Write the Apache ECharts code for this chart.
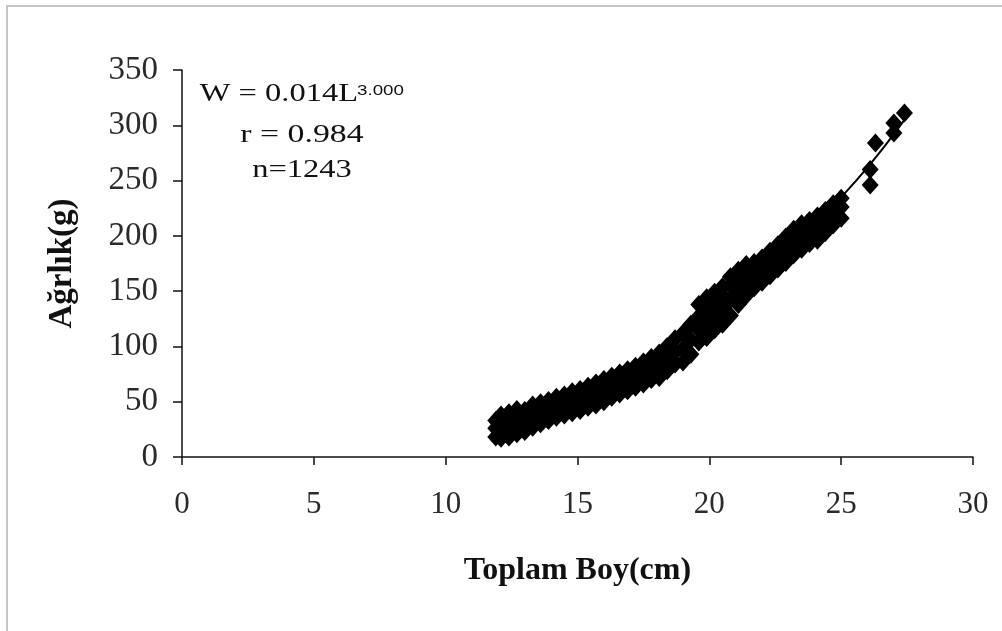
<!DOCTYPE html>
<html>
<head>
<meta charset="utf-8">
<script src="https://cdn.jsdelivr.net/npm/echarts@6/dist/echarts.min.js"></script>
<style>
  html, body { margin: 0; padding: 0; background: #ffffff; }
  #chart { width: 1002px; height: 631px; }
</style>
</head>
<body>
<div id="chart"></div>
<script>
// Total length (cm) groups and the weights (g) measured at each length
const boyCm = [11.9, 12.1, 12.4, 12.7, 13.0, 13.3, 13.6, 13.9, 14.2, 14.5, 14.8, 15.1,
  15.4, 15.7, 16.0, 16.3, 16.6, 16.9, 17.2, 17.5, 17.8, 18.1, 18.4, 18.7, 19.0, 19.3,
  19.6, 19.9, 20.2, 20.5, 20.8, 21.1, 21.4, 21.7, 22.0, 22.3, 22.6, 22.9, 23.2, 23.5,
  23.8, 24.1, 24.4, 24.7, 25.0, 26.1, 26.3, 27.0, 27.4];

const agirlikG = [
  [18, 26, 33], [17, 25, 32, 38], [18, 27, 34, 40], [21, 30, 38, 43], [23, 33, 42],
  [27, 37, 47], [30, 40, 49], [33, 43, 51], [36, 45, 54], [38, 47, 56], [40, 50, 59],
  [42, 52, 61], [45, 55, 64], [47, 57, 67], [50, 60, 70], [54, 64, 73], [57, 67, 76],
  [60, 70, 79], [63, 73, 82], [66, 77, 86], [70, 80, 90], [72, 83, 94], [78, 89, 100],
  [84, 95, 107], [86, 98, 112], [93, 106, 120], [104, 115, 127, 138], [108, 122, 134, 144],
  [115, 128, 140, 149], [120, 134, 146, 154], [128, 142, 155, 163], [138, 150, 160, 169],
  [146, 158, 168, 174], [153, 165, 176], [158, 170, 180], [164, 175, 186], [170, 181, 192],
  [176, 188, 199], [183, 194, 206], [188, 200, 211], [193, 204, 214], [196, 208, 218],
  [203, 214, 223], [210, 220, 229], [216, 226, 234], [246, 260], [284], [293, 302], [311]
];

// Power trend line W = 0.014 L^3
const trendBoy = [11.9, 13, 14, 15, 16, 17, 18, 19, 20, 21, 22, 23, 24, 25, 26, 27, 27.4];
const trendAgirlik = [26, 33, 42, 50, 59, 70, 83, 99, 118, 140, 164, 187, 210, 235, 262, 292, 305];

const xTickMax = 30, xTickStep = 5;
const yTickMax = 350, yTickStep = 50;

const points = [];
boyCm.forEach((L, i) => agirlikG[i].forEach(w => points.push([L, w])));
const trend = trendBoy.map((L, i) => [L, trendAgirlik[i]]);

const serif = '"Liberation Serif", "Times New Roman", serif';
const chart = echarts.init(document.getElementById('chart'), null, { renderer: 'canvas' });

chart.setOption({
  backgroundColor: '#ffffff',
  animation: false,
  grid: { left: 182, right: 29, top: 70, bottom: 174, containLabel: false },
  xAxis: {
    type: 'value', min: 0, max: xTickMax, interval: xTickStep,
    name: 'Toplam Boy(cm)', nameLocation: 'middle', nameGap: 98,
    nameTextStyle: { fontFamily: serif, fontWeight: 'bold', fontSize: 32, color: '#111' },
    axisLine: { show: true, onZero: false, lineStyle: { color: '#111', width: 1.5 } },
    axisTick: { show: true, inside: false, length: 8, lineStyle: { color: '#111', width: 1.5 } },
    axisLabel: { margin: 32, fontFamily: serif, fontSize: 31, color: '#2a2a2a' },
    splitLine: { show: false }
  },
  yAxis: {
    type: 'value', min: 0, max: yTickMax, interval: yTickStep,
    name: 'Ağrlık(g)', nameLocation: 'middle', nameGap: 103, nameRotate: 90,
    nameTextStyle: { fontFamily: serif, fontWeight: 'bold', fontSize: 33, color: '#111' },
    axisLine: { show: true, onZero: false, lineStyle: { color: '#111', width: 1.5 } },
    axisTick: { show: true, inside: false, length: 9, lineStyle: { color: '#111', width: 1.5 } },
    axisLabel: { margin: 24, fontFamily: serif, fontSize: 33, color: '#2a2a2a' },
    splitLine: { show: false }
  },
  series: [
    {
      type: 'scatter',
      data: points,
      symbol: 'diamond',
      symbolSize: [17, 19],
      itemStyle: { color: '#000000', opacity: 1 },
      z: 2
    },
    {
      type: 'line',
      data: trend,
      smooth: true,
      showSymbol: false,
      lineStyle: { color: '#000000', width: 2 },
      z: 3
    }
  ],
  graphic: [
    {
      type: 'rect', silent: true, z: 0,
      shape: { x: 7, y: 6, width: 1100, height: 700 },
      style: { fill: 'none', stroke: '#c6c6c6', lineWidth: 2 }
    },
    {
      type: 'text', silent: true, x: 358, y: 94, scaleX: 1.25, z: 5,
      style: { text: 'W = 0.014L', fontFamily: serif, fontSize: 26, fill: '#111',
        align: 'right', verticalAlign: 'middle', textAlign: 'right', textVerticalAlign: 'middle' }
    },
    {
      type: 'text', silent: true, x: 357, y: 91, scaleX: 1.25, z: 5,
      style: { text: '3.000', fontFamily: '"Liberation Sans", Arial, sans-serif', fontSize: 15, fill: '#111',
        align: 'left', verticalAlign: 'middle', textAlign: 'left', textVerticalAlign: 'middle' }
    },
    {
      type: 'text', silent: true, x: 302, y: 135, scaleX: 1.3, z: 5,
      style: { text: 'r = 0.984', fontFamily: serif, fontSize: 26, fill: '#111',
        align: 'center', verticalAlign: 'middle', textAlign: 'center', textVerticalAlign: 'middle' }
    },
    {
      type: 'text', silent: true, x: 302, y: 170, scaleX: 1.25, z: 5,
      style: { text: 'n=1243', fontFamily: serif, fontSize: 26, fill: '#111',
        align: 'center', verticalAlign: 'middle', textAlign: 'center', textVerticalAlign: 'middle' }
    }
  ]
});
</script>
</body>
</html>
